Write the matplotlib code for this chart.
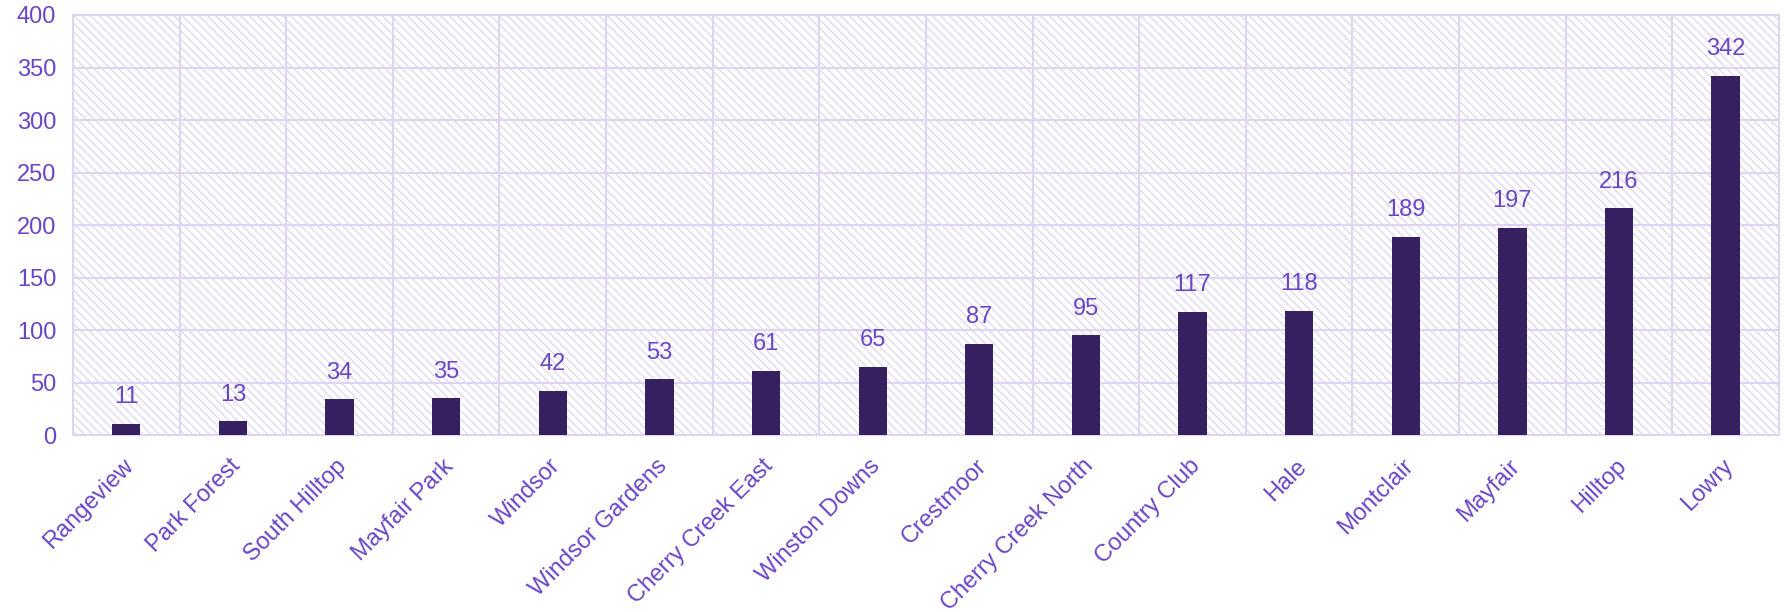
import matplotlib.pyplot as plt
from matplotlib.patches import Rectangle
from matplotlib.transforms import ScaledTranslation

# neighborhoods and counts
neighborhoods = ['Rangeview', 'Park Forest', 'South Hilltop', 'Mayfair Park', 'Windsor',
                 'Windsor Gardens', 'Cherry Creek East', 'Winston Downs', 'Crestmoor',
                 'Cherry Creek North', 'Country Club', 'Hale', 'Montclair', 'Mayfair',
                 'Hilltop', 'Lowry']
counts = [11, 13, 34, 35, 42, 53, 61, 65, 87, 95, 117, 118, 189, 197, 216, 342]
yticks = [0, 50, 100, 150, 200, 250, 300, 350, 400]

text_color = '#6a45c8'
bar_color = '#36205f'
grid_color = '#ddd5f3'

plt.rcParams['font.family'] = ['Liberation Sans', 'DejaVu Sans']
plt.rcParams['hatch.color'] = '#d6ccf4'
plt.rcParams['hatch.linewidth'] = 0.7

fig = plt.figure(figsize=(17.85, 6.12), dpi=100)
ax = fig.add_axes([0.0409, 0.289, 0.9557, 0.6865])

# hatched background (4 backslashes -> ~24 lines per inch)
ax.add_patch(Rectangle((0, 0), 1, 1, transform=ax.transAxes, facecolor='white',
                       hatch='\\' * 4, edgecolor='#d6ccf4', linewidth=0, zorder=0))

x = range(len(neighborhoods))
bars = ax.bar(x, counts, width=0.265, color=bar_color, zorder=3)
for xi, v in zip(x, counts):
    ax.text(xi, v + 15, str(v), ha='center', va='bottom', fontsize=17, color=text_color, zorder=4)

ax.set_xlim(-0.5, len(neighborhoods) - 0.5)
ax.set_ylim(0, 400)
ax.set_yticks(yticks)
ax.set_xticks([i + 0.5 for i in x][:-1], minor=True)
ax.set_xticks(list(x))
ax.set_xticklabels(neighborhoods, rotation=45, ha='right', va='center', rotation_mode='anchor')
ax.tick_params(axis='both', which='both', length=0, labelsize=17, labelcolor=text_color)
ax.tick_params(axis='x', pad=20)
ax.tick_params(axis='y', pad=12)
# nudge the rotated labels a little to the right
shift = ScaledTranslation(4 / 100, 0, fig.dpi_scale_trans)
for lbl in ax.get_xticklabels():
    lbl.set_transform(lbl.get_transform() + shift)
ax.grid(axis='y', color=grid_color, linewidth=1.5, zorder=1)
ax.grid(axis='x', which='minor', color=grid_color, linewidth=1.5, zorder=1)
for s in ax.spines.values():
    s.set_color(grid_color)
    s.set_linewidth(1.5)

fig.savefig('out.png', dpi=100)
